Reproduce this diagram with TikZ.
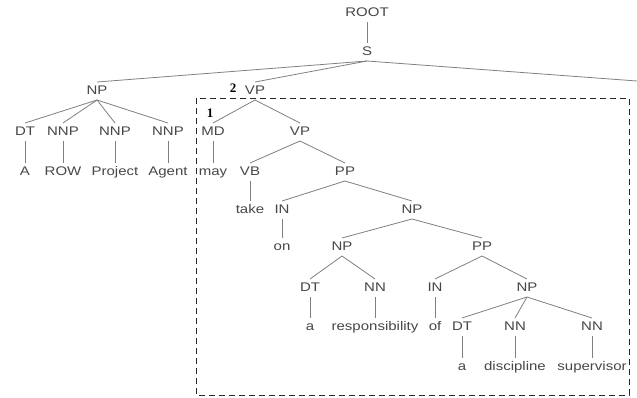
\documentclass[tikz,border=0pt]{standalone}
\usepackage{fontspec}
\setmainfont[FakeStretch=1.2]{Liberation Sans}
\newfontfamily\labfont{Liberation Serif}
\begin{document}
\begin{tikzpicture}[x=1pt,y=-1pt,
  lbl/.style={inner sep=0pt, outer sep=3.5pt, text height=9pt, text depth=2pt,
    font=\fontsize{12.5}{14}\selectfont, text=black!72},
  edge/.style={draw=black!50, line width=0.8pt},
  num/.style={font=\labfont\bfseries\fontsize{13}{14}\selectfont, inner sep=0pt},
  box/.style={draw=black!85, line width=1pt, dash pattern=on 6pt off 4pt}]
\useasboundingbox[fill=white] (0,0) rectangle (637,397);
% nodes
\node[lbl] (root) at (367,13) {ROOT};
\node[lbl] (s) at (367,52) {S};
\coordinate (s3) at (637,81);
\node[lbl] (np1) at (97,91) {NP};
\node[lbl] (vp1) at (255,91) {VP};
\node[lbl] (dt1) at (25,132) {DT};
\node[lbl] (nnp1) at (63,132) {NNP};
\node[lbl] (nnp2) at (115,132) {NNP};
\node[lbl] (nnp3) at (168,132) {NNP};
\node[lbl] (wA) at (25,172) {A};
\node[lbl] (wROW) at (63,172) {ROW};
\node[lbl] (wProject) at (115,172) {Project};
\node[lbl] (wAgent) at (168,172) {Agent};
\node[lbl] (md) at (213,132) {MD};
\node[lbl] (vp2) at (300,132) {VP};
\node[lbl] (wmay) at (213,172) {may};
\node[lbl] (vb) at (250,172) {VB};
\node[lbl] (pp1) at (345,172) {PP};
\node[lbl] (wtake) at (250,210) {take};
\node[lbl] (in1) at (282,210) {IN};
\node[lbl] (np2) at (412,210) {NP};
\node[lbl] (won) at (282,247) {on};
\node[lbl] (np3) at (342,247) {NP};
\node[lbl] (pp2) at (482,247) {PP};
\node[lbl] (dt2) at (310,288) {DT};
\node[lbl] (nn1) at (375,288) {NN};
\node[lbl] (in2) at (435,288) {IN};
\node[lbl] (np4) at (527,288) {NP};
\node[lbl] (wa1) at (310,327) {a};
\node[lbl] (wresp) at (375,327) {responsibility};
\node[lbl] (wof) at (435,327) {of};
\node[lbl] (dt3) at (462,327) {DT};
\node[lbl] (nn2) at (515,327) {NN};
\node[lbl] (nn3) at (592,327) {NN};
\node[lbl] (wa2) at (462,367) {a};
\node[lbl] (wdisc) at (515,367) {discipline};
\node[lbl] (wsup) at (592,367) {supervisor};
\node[num] (n2) at (233,88) {2};
\node[num] (n1) at (210,113) {1};
% edges
\path[edge] (root.south) -- (s.north);
\path[edge] (s.south) -- (np1.north);
\path[edge] (s.south) -- (vp1.north);
\path[edge] (s.south) -- (s3);
\foreach \c in {dt1,nnp1,nnp2,nnp3} \path[edge] (np1.south) -- (\c.north);
\path[edge] (dt1.south) -- (wA.north);
\path[edge] (nnp1.south) -- (wROW.north);
\path[edge] (nnp2.south) -- (wProject.north);
\path[edge] (nnp3.south) -- (wAgent.north);
\path[edge] (vp1.south) -- (md.north);
\path[edge] (vp1.south) -- (vp2.north);
\path[edge] (md.south) -- (wmay.north);
\path[edge] (vp2.south) -- (vb.north);
\path[edge] (vp2.south) -- (pp1.north);
\path[edge] (vb.south) -- (wtake.north);
\path[edge] (pp1.south) -- (in1.north);
\path[edge] (pp1.south) -- (np2.north);
\path[edge] (in1.south) -- (won.north);
\path[edge] (np2.south) -- (np3.north);
\path[edge] (np2.south) -- (pp2.north);
\path[edge] (np3.south) -- (dt2.north);
\path[edge] (np3.south) -- (nn1.north);
\path[edge] (pp2.south) -- (in2.north);
\path[edge] (pp2.south) -- (np4.north);
\path[edge] (dt2.south) -- (wa1.north);
\path[edge] (nn1.south) -- (wresp.north);
\path[edge] (in2.south) -- (wof.north);
\foreach \c in {dt3,nn2,nn3} \path[edge] (np4.south) -- (\c.north);
\path[edge] (dt3.south) -- (wa2.north);
\path[edge] (nn2.south) -- (wdisc.north);
\path[edge] (nn3.south) -- (wsup.north);
% dashed box
\draw[box] (196,98) rectangle (629,395);
\end{tikzpicture}
\end{document}
